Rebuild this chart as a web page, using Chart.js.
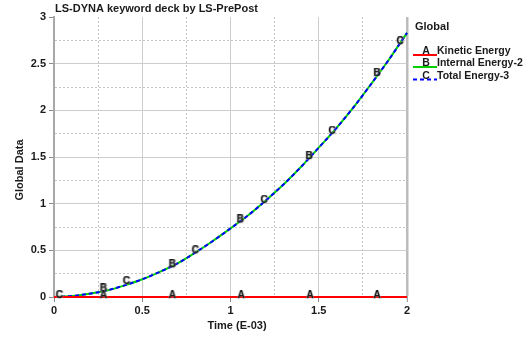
<!DOCTYPE html>
<html>
<head>
<meta charset="utf-8">
<script src="https://cdn.jsdelivr.net/npm/chart.js@4/dist/chart.umd.min.js"></script>
<style>
  html, body { margin: 0; padding: 0; background: #fff; }
  #wrap { width: 531px; height: 339px; position: relative; }
</style>
</head>
<body>
<div id="wrap"><canvas id="c" width="531" height="339"></canvas></div>
<script>
// Time history (E-03 s) and global energies
const times = [0, 0.1, 0.2, 0.3, 0.4, 0.5, 0.6, 0.7, 0.8, 0.9, 1.0,
               1.1, 1.2, 1.3, 1.4, 1.5, 1.6, 1.7, 1.8, 1.9, 2.0];
const kineticEnergy = [0, 0, 0, 0, 0, 0, 0, 0, 0, 0, 0,
                       0, 0, 0, 0, 0, 0, 0, 0, 0, 0];
const internalEnergy = [0, 0.01, 0.035, 0.07, 0.125, 0.19, 0.27, 0.36, 0.475, 0.6, 0.735,
                        0.875, 1.035, 1.205, 1.395, 1.6, 1.81, 2.04, 2.29, 2.55, 2.83];
const totalEnergy = [0, 0.01, 0.035, 0.07, 0.125, 0.19, 0.27, 0.36, 0.475, 0.6, 0.735,
                     0.875, 1.035, 1.205, 1.395, 1.6, 1.81, 2.04, 2.29, 2.55, 2.83];

// Curve identification letters
const markerTimesA = [0.28, 0.67, 1.06, 1.45, 1.83];
const markerValuesA = [0, 0, 0, 0, 0];
const markerTimesB = [0.28, 0.67, 1.055, 1.445, 1.83];
const markerValuesB = [0.07, 0.33, 0.81, 1.49, 2.38];
const markerTimesC = [0.03, 0.41, 0.80, 1.19, 1.575, 1.96];
const markerValuesC = [0.0, 0.15, 0.48, 1.02, 1.76, 2.72];

const xTickValues = [0, 0.5, 1, 1.5, 2];
const yTickValues = [0, 0.5, 1, 1.5, 2, 2.5, 3];

const seriesNames = ['Kinetic Energy', 'Internal Energy-2', 'Total Energy-3'];
const seriesLetters = ['A', 'B', 'C'];
const seriesColors = ['#ff0000', '#00d000', '#0000ff'];

const FONT = '"Liberation Sans", Arial, sans-serif';

function pairs(xs, ys) { return xs.map((x, i) => ({ x: x, y: ys[i] })); }

function letterImage(ch) {
  const c = document.createElement('canvas');
  c.width = 14; c.height = 14;
  const g = c.getContext('2d');
  g.font = 'bold 10px ' + FONT;
  g.textAlign = 'center';
  g.textBaseline = 'middle';
  g.lineWidth = 1.5;
  g.strokeStyle = 'rgba(150,150,150,0.55)';
  g.strokeText(ch, 7, 5.5);
  g.fillStyle = '#1a1a1a';
  g.fillText(ch, 7, 5.5);
  return c;
}

function isMinor(v) { return Math.abs(v * 2 - Math.round(v * 2)) > 1e-6; }

const gridColor = (ctx) => {
  if (!ctx.tick) return '#c8c8c8';
  return isMinor(ctx.tick.value) ? '#c4c4c4' : '#cdcdcd';
};
const gridDash = (ctx) => (ctx.tick && isMinor(ctx.tick.value)) ? [2, 2] : [];
const tickCol = (ctx) => (ctx.tick && isMinor(ctx.tick.value)) ? 'rgba(0,0,0,0)' : '#8a8a8a';

const textPlugin = {
  id: 'texts',
  afterDraw(chart) {
    const g = chart.ctx;
    g.save();
    g.fillStyle = '#1a1a1a';
    // title
    g.font = 'bold 11px ' + FONT;
    g.textAlign = 'left';
    g.textBaseline = 'middle';
    g.fillText('LS-DYNA keyword deck by LS-PrePost', 55, 9);
    // x axis title
    g.font = 'bold 11px ' + FONT;
    g.textAlign = 'center';
    g.fillText('Time (E-03)', 237, 326);
    // y axis title
    g.save();
    g.translate(20, 170);
    g.rotate(-Math.PI / 2);
    g.fillText('Global Data', 0, 0);
    g.restore();
    // legend
    g.textAlign = 'left';
    g.font = 'bold 11px ' + FONT;
    g.fillText('Global', 415, 26.5);
    const ys = [51.5, 63.5, 76];
    for (let i = 0; i < 3; i++) {
      const ly = ys[i] + 3.5;
      g.beginPath();
      g.strokeStyle = seriesColors[i];
      g.lineWidth = 2;
      g.setLineDash(i === 2 ? [4, 3] : []);
      g.moveTo(413, ly);
      g.lineTo(437, ly);
      g.stroke();
      g.setLineDash([]);
      g.font = 'bold 10.5px ' + FONT;
      g.textAlign = 'center';
      g.fillText(seriesLetters[i], 426, ys[i]);
      g.textAlign = 'left';
      g.fillText(seriesNames[i], 437, ys[i]);
    }
    g.restore();
  }
};

new Chart(document.getElementById('c'), {
  type: 'line',
  data: {
    datasets: [
      { label: 'A', data: pairs(markerTimesA, markerValuesA), showLine: false,
        pointStyle: letterImage('A'), pointRadius: 6, order: 0, clip: false },
      { label: 'B', data: pairs(markerTimesB, markerValuesB), showLine: false,
        pointStyle: letterImage('B'), pointRadius: 6, order: 0, clip: false },
      { label: 'C', data: pairs(markerTimesC, markerValuesC), showLine: false,
        pointStyle: letterImage('C'), pointRadius: 6, order: 0, clip: false },
      { label: seriesNames[0], data: pairs(times, kineticEnergy), borderColor: seriesColors[0],
        borderWidth: 2, pointRadius: 0, order: 1, clip: false },
      { label: seriesNames[2], data: pairs(times, totalEnergy), borderColor: seriesColors[2],
        borderWidth: 2, borderDash: [4, 3], pointRadius: 0, cubicInterpolationMode: 'monotone', order: 2, clip: false },
      { label: seriesNames[1], data: pairs(times, internalEnergy), borderColor: seriesColors[1],
        borderWidth: 2, pointRadius: 0, cubicInterpolationMode: 'monotone', order: 3, clip: false }
    ]
  },
  options: {
    responsive: false,
    animation: false,
    devicePixelRatio: 1,
    layout: { padding: { left: 0, right: 124, top: 17, bottom: 0 } },
    plugins: { legend: { display: false }, tooltip: { enabled: false }, title: { display: false } },
    scales: {
      x: {
        type: 'linear', min: 0, max: 2,
        afterFit: (s) => { s.height = 42; },
        afterBuildTicks: (s) => {
          const t = [];
          for (let v = 0; v <= 2.0001; v += 0.25) t.push({ value: Math.round(v * 100) / 100 });
          s.ticks = t;
        },
        ticks: {
          autoSkip: false, maxRotation: 0, padding: 2, color: '#1a1a1a',
          font: { family: FONT, size: 11, weight: 'bold' },
          callback: (v) => xTickValues.includes(v) ? String(v) : ''
        },
        grid: {
          color: (ctx) => (ctx.tick && ctx.tick.value === 2) ? '#bcbcbc' : gridColor(ctx),
          lineWidth: (ctx) => (ctx.tick && ctx.tick.value === 2) ? 2.5 : 1,
          tickLength: 5, tickColor: tickCol, tickWidth: 1
        },
        border: { display: true, color: '#a8a8a8', width: 2, dash: gridDash }
      },
      y: {
        type: 'linear', min: 0, max: 3,
        afterFit: (s) => { s.width = 54; },
        afterBuildTicks: (s) => {
          const t = [];
          for (let v = 0; v <= 3.0001; v += 0.25) t.push({ value: Math.round(v * 100) / 100 });
          s.ticks = t;
        },
        ticks: {
          autoSkip: false, padding: 3, color: '#1a1a1a',
          font: { family: FONT, size: 11, weight: 'bold' },
          callback: (v) => yTickValues.includes(v) ? String(v) : ''
        },
        grid: {
          color: (ctx) => (ctx.tick && ctx.tick.value === 3) ? 'rgba(0,0,0,0)' : gridColor(ctx),
          lineWidth: 1,
          tickLength: 5, tickColor: tickCol, tickWidth: 1
        },
        border: { display: true, color: '#a8a8a8', width: 2, dash: gridDash }
      }
    }
  },
  plugins: [textPlugin]
});
</script>
</body>
</html>
